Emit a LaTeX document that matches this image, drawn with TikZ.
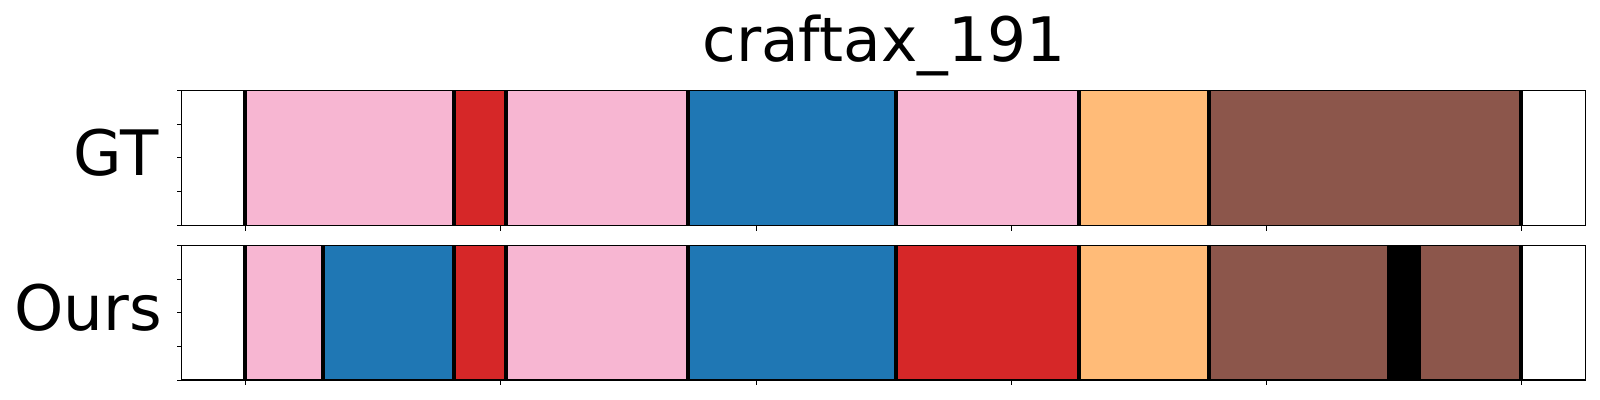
\documentclass[tikz,border=0pt]{standalone}
\usepackage{fontspec}
\setmainfont{DejaVu Sans}
\definecolor{segpink}{HTML}{F7B6D2}
\definecolor{segred}{HTML}{D62728}
\definecolor{segblue}{HTML}{1F77B4}
\definecolor{segorange}{HTML}{FFBB78}
\definecolor{segbrown}{HTML}{8C564B}
\definecolor{segblack}{HTML}{000000}
\tikzset{
  sepline/.style={line width=3pt, black},
  spine/.style={line width=0.9pt, black},
  tickmark/.style={line width=0.75pt, black},
  titletext/.style={font=\fontsize{46pt}{50pt}\selectfont, anchor=base, inner sep=0pt},
  rowlabel/.style={font=\fontsize{47pt}{54pt}\selectfont, anchor=base east, inner sep=0pt}
}
\begin{document}
\begin{tikzpicture}[x=0.75pt, y=-0.75pt]
\useasboundingbox[fill=white] (0,0) rectangle (1600,400);
% ---- GT row segments
\foreach \a/\b/\c in {244.7/454/segpink, 454/506/segred, 506/687.7/segpink, 687.7/896/segblue, 896/1078.7/segpink, 1078.7/1209.3/segorange, 1209.3/1521/segbrown}
  \fill[\c] (\a,90.3) rectangle (\b,225.3);
\foreach \s in {244.7,454,506,687.7,896,1078.7,1209.3,1521}
  \draw[sepline] (\s,90.3) -- (\s,225.3);
% ---- Ours row segments
\foreach \a/\b/\c in {244.7/323/segpink, 323/454/segblue, 454/506/segred, 506/687.7/segpink, 687.7/896/segblue, 896/1078.7/segred, 1078.7/1209.3/segorange, 1209.3/1389/segbrown, 1389/1419/segblack, 1419/1521/segbrown}
  \fill[\c] (\a,245.7) rectangle (\b,380);
\foreach \s in {244.7,323,454,506,687.7,896,1078.7,1209.3,1389,1419,1521}
  \draw[sepline] (\s,245.7) -- (\s,380);
% ---- frames
\draw[spine] (181.7,90.3) rectangle (1585.7,225.3);
\draw[spine] (181.7,245.7) rectangle (1585.7,380);
% ---- ticks
\foreach \t in {245.5,500.8,756.0,1011.3,1266.6,1521.8} {
  \draw[tickmark] (\t,225.3) -- (\t,230.5);
  \draw[tickmark] (\t,380) -- (\t,385.2);
}
\foreach \f in {0,0.25,0.5,0.75,1} {
  \draw[tickmark] (181.7,{90.3+135*\f}) -- (176.5,{90.3+135*\f});
  \draw[tickmark] (181.7,{245.7+134.3*\f}) -- (176.5,{245.7+134.3*\f});
}
% ---- texts
\node[titletext] (title) at (883.7,61.7) {craftax\_191};
\node[rowlabel] (gtlabel) at (158.5,175) {GT};
\node[rowlabel] (ourslabel) at (162.4,330) {Ours};
\end{tikzpicture}
\end{document}
